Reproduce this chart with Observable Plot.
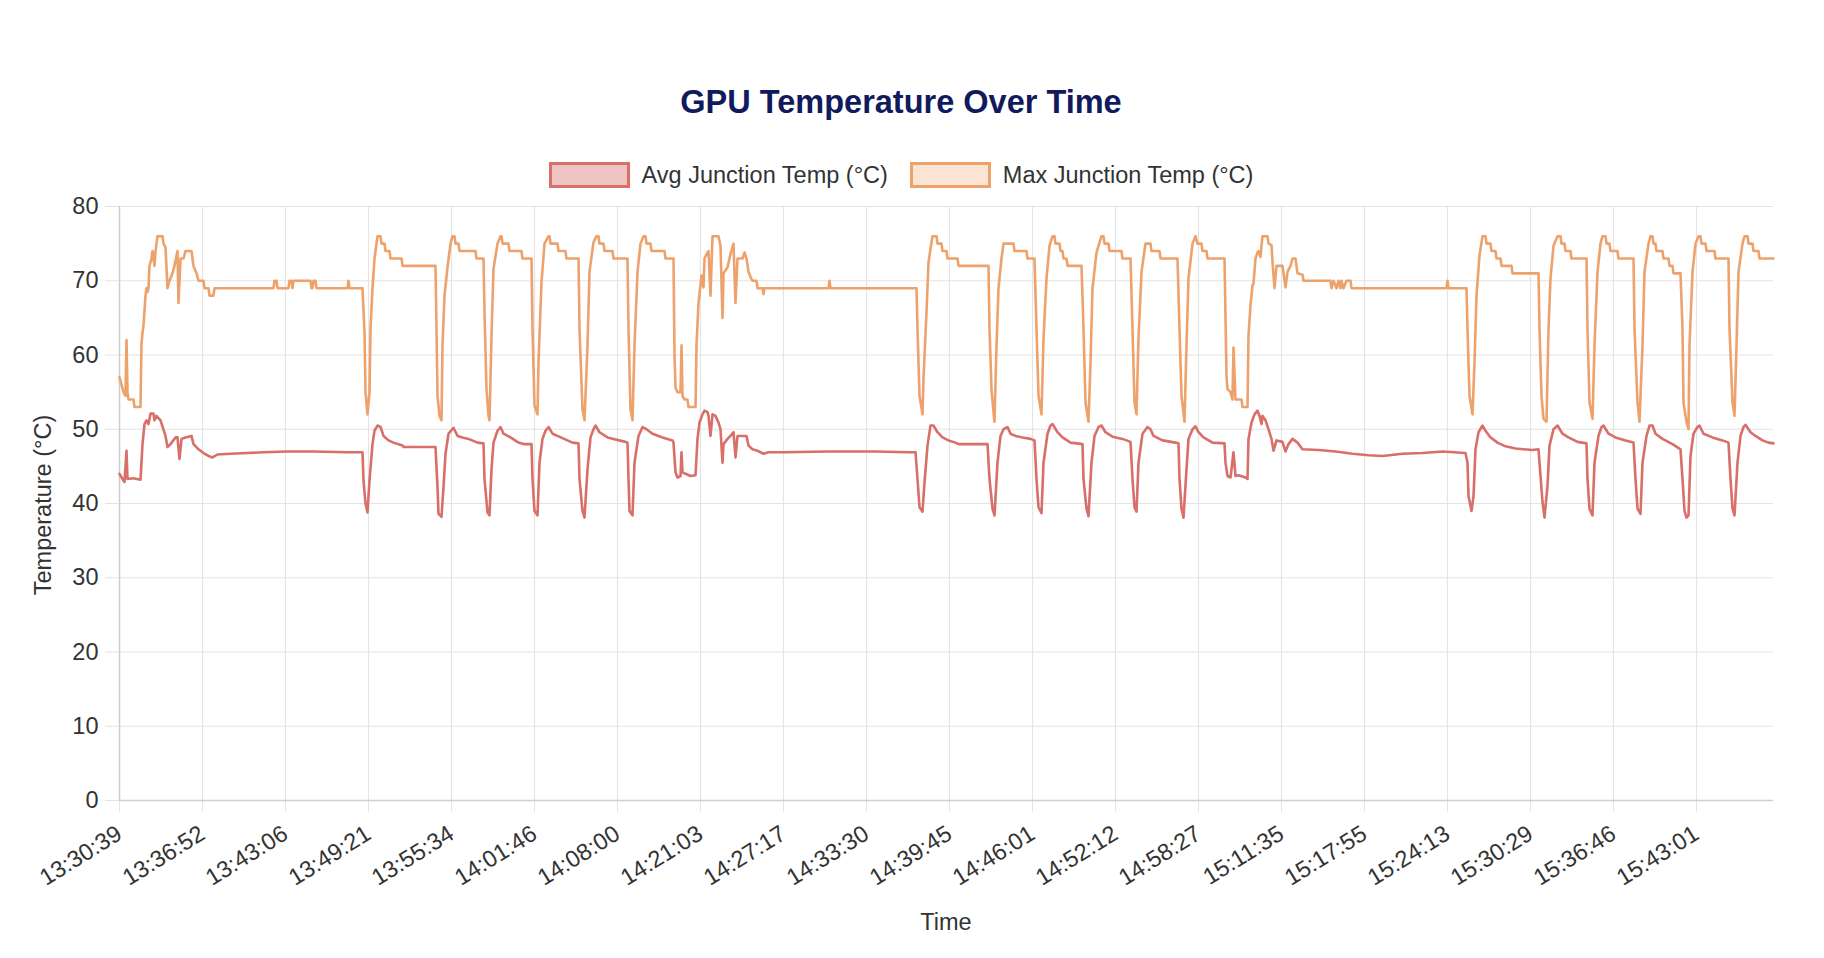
<!DOCTYPE html>
<html>
<head>
<meta charset="utf-8">
<script src="https://cdn.jsdelivr.net/npm/d3@7"></script>
<script src="https://cdn.jsdelivr.net/npm/@observablehq/plot@0.6"></script>
<style>
  body { margin: 0; background: #fff; }
  #wrap { position: relative; width: 1824px; height: 958px; font-family: "Liberation Sans", Arial, Helvetica, sans-serif; color: #333; }
  #title { position: absolute; left: 0; width: 1802px; top: 86px; line-height: 32px; text-align: center; font-weight: bold; font-size: 32.5px; color: #111a5c; }
  #legend { position: absolute; left: 0; width: 1802px; top: 162px; height: 26px; display: flex; justify-content: center; align-items: center; font-size: 23.5px; color: #333; }
  .item { display: flex; align-items: center; margin: 0 11px; }
  .box { width: 75px; height: 20px; border-width: 3px; border-style: solid; margin-right: 12px; }
  #chart { position: absolute; left: 0; top: 190px; }
  #xtitle { position: absolute; left: 119px; width: 1654px; top: 910px; line-height: 24px; text-align: center; font-size: 23.5px; color: #333; }
  #ytitle { position: absolute; left: 43px; top: 505px; transform: translate(-50%, -50%) rotate(-90deg); white-space: nowrap; font-size: 23.5px; color: #333; }
</style>
</head>
<body>
<div id="wrap">
  <div id="title">GPU Temperature Over Time</div>
  <div id="legend"></div>
  <div id="chart"></div>
  <div id="xtitle">Time</div>
  <div id="ytitle">Temperature (°C)</div>
</div>
<script>
// Time labels shown on the category axis (one every 83 samples)
const timeLabels = ["13:30:39","13:36:52","13:43:06","13:49:21","13:55:34","14:01:46","14:08:00","14:21:03","14:27:17","14:33:30","14:39:45","14:46:01","14:52:12","14:58:27","15:11:35","15:17:55","15:24:13","15:30:29","15:36:46","15:43:01"];
const samplesPerLabel = 83;
const lastSample = 1654;
const yTicks = [0, 10, 20, 30, 40, 50, 60, 70, 80];

const seriesNames = ["Avg Junction Temp (°C)", "Max Junction Temp (°C)"];
const seriesColors = ["#d86f69", "#eda26c"];
const seriesFills = ["#efc5c4", "#fbe4d4"];

// [sample index, °C]
const avgTemp = [[0,44],[3,43.3],[5,42.9],[7,47.1],[8,43.3],[14,43.4],[21,43.2],[23,48],[25,50.7],[27,51.2],[29,50.7],[31,52.1],[34,52.1],[35,51.2],[37,51.8],[41,51.2],[46,49.1],[48,47.6],[51,48],[56,48.9],[58,48.9],[60,46],[62,48.7],[66,48.9],[72,49.1],[74,48],[79,47.3],[84,46.8],[89,46.4],[93,46.2],[98,46.6],[111,46.7],[128,46.8],[144,46.9],[168,47],[194,47],[228,46.9],[243,46.9],[244,43.1],[246,40],[248,38.8],[250,43.1],[253,48],[255,49.8],[258,50.5],[261,50.3],[264,49.1],[269,48.5],[274,48.2],[283,47.8],[284,47.6],[316,47.6],[318,42.2],[319,38.6],[322,38.2],[324,42.2],[326,46.7],[329,49.4],[334,50.2],[338,49.1],[343,48.9],[349,48.7],[358,48.2],[364,48.1],[365,43.3],[368,38.8],[370,38.4],[372,44.6],[374,48.2],[378,49.8],[381,50.3],[384,49.4],[391,48.9],[399,48.2],[404,48],[412,48],[413,43.3],[415,39],[418,38.4],[420,45.5],[423,48.7],[426,49.8],[429,50.3],[433,49.4],[443,48.8],[453,48.2],[459,48.1],[460,43.3],[463,39],[465,38.1],[468,44.6],[471,48.9],[474,50],[476,50.5],[480,49.6],[488,48.9],[494,48.7],[506,48.3],[508,48.2],[509,43.3],[510,39],[513,38.4],[515,45.5],[519,49.1],[523,50.3],[527,50],[533,49.4],[543,48.9],[553,48.5],[554,48.2],[556,44.2],[558,43.5],[561,43.7],[562,46.9],[563,44.2],[566,44],[571,43.7],[576,43.8],[578,48.7],[580,50.9],[583,52],[585,52.5],[588,52.3],[589,51.8],[591,49.1],[593,52],[596,51.8],[599,50.9],[601,50],[603,45.5],[604,48],[608,48.7],[611,49.1],[614,49.6],[616,46.2],[618,49.1],[627,49.1],[629,47.8],[633,47.3],[638,47.1],[644,46.7],[649,46.9],[663,46.9],[709,47],[756,47],[789,46.9],[796,46.9],[798,43.3],[800,39.5],[803,38.9],[805,42.8],[808,47.8],[811,50.5],[814,50.5],[818,49.6],[823,48.9],[829,48.5],[836,48.2],[839,48],[868,48],[870,43.3],[873,39.3],[875,38.4],[878,45.5],[881,49.1],[884,50],[888,50.3],[891,49.4],[896,49.1],[903,48.9],[911,48.7],[915,48.5],[917,43.3],[919,39.5],[922,38.7],[924,45.5],[928,49.4],[931,50.5],[933,50.7],[938,49.6],[943,48.9],[951,48.2],[963,48],[964,43.3],[967,39.3],[969,38.3],[972,45.5],[975,49.1],[979,50.3],[982,50.5],[986,49.6],[993,49],[1003,48.7],[1011,48.3],[1013,43.3],[1015,39.5],[1017,38.9],[1019,45.5],[1023,49.4],[1028,50.3],[1031,50],[1034,49.1],[1043,48.5],[1056,48.2],[1059,48.1],[1060,43.3],[1062,39.3],[1064,38.1],[1067,44.6],[1069,48.7],[1073,50],[1076,50.4],[1079,49.6],[1084,48.9],[1093,48.2],[1105,48.1],[1106,45.5],[1108,43.7],[1111,43.5],[1114,46.9],[1116,43.7],[1119,43.8],[1126,43.5],[1128,43.3],[1129,48.7],[1132,50.9],[1135,52],[1138,52.5],[1140,51.8],[1142,50.7],[1143,51.8],[1146,51.2],[1149,50],[1152,48.7],[1154,47.1],[1157,48.5],[1163,48.3],[1166,47],[1169,48],[1173,48.7],[1178,48.2],[1183,47.3],[1199,47.2],[1216,47],[1233,46.7],[1249,46.5],[1263,46.4],[1283,46.7],[1303,46.8],[1323,47],[1346,46.8],[1348,45.5],[1349,41],[1352,39],[1354,41],[1356,47.3],[1359,49.6],[1363,50.5],[1366,49.8],[1371,48.9],[1378,48.2],[1386,47.7],[1396,47.4],[1413,47.2],[1419,47.3],[1420,45.5],[1423,40.2],[1425,38.1],[1428,42.4],[1430,47.8],[1434,50],[1438,50.5],[1443,49.4],[1449,48.9],[1458,48.3],[1467,48.1],[1468,43.3],[1470,39.3],[1473,38.4],[1475,45.5],[1479,49.1],[1482,50.3],[1484,50.5],[1489,49.4],[1496,48.9],[1506,48.5],[1514,48.2],[1516,43.3],[1518,39.3],[1521,38.6],[1523,45.5],[1527,49.1],[1530,50.5],[1533,50.5],[1536,49.4],[1543,48.7],[1553,48],[1561,47.3],[1563,43.3],[1565,39],[1567,38.1],[1569,38.4],[1571,46.4],[1574,49.4],[1578,50.3],[1580,50.5],[1584,49.4],[1593,48.9],[1603,48.5],[1609,48.2],[1611,43.3],[1613,39.3],[1615,38.4],[1618,45.5],[1621,49.1],[1624,50.3],[1626,50.6],[1631,49.6],[1636,49.1],[1643,48.5],[1649,48.2],[1654,48.1]];

// [sample index, °C]
const maxTemp = [[0,57],[2,56],[4,55],[6,54.5],[7,62],[8,55],[9,54],[14,54],[15,53],[21,53],[22,61.5],[23,63],[24,64],[26,68],[27,69],[28,68.5],[29,69],[30,72],[32,73],[33,74],[35,72],[36,74],[38,76],[43,76],[44,75],[46,74.5],[48,69],[50,70],[53,71],[55,72],[58,74],[59,67],[61,73],[64,73],[66,74],[72,74],[74,72],[77,71],[79,70],[84,70],[85,69],[89,69],[90,68],[94,68],[95,69],[154,69],[155,70],[157,70],[158,69],[169,69],[170,70],[172,70],[173,69],[174,70],[191,70],[192,69],[193,69],[194,70],[196,70],[197,69],[228,69],[229,70],[230,69],[243,69],[245,63],[246,55],[248,52],[250,55],[251,63.5],[253,69],[255,73],[258,76],[261,76],[262,75],[265,75],[266,74],[270,74],[271,73],[282,73],[283,72],[316,72],[317,63.5],[318,54.5],[320,51.8],[322,51.2],[323,61.3],[325,68],[328,71.8],[331,75],[333,76],[335,76],[336,75],[339,75],[340,74],[356,74],[357,73],[364,73],[365,65.8],[367,55.4],[369,51.8],[370,51.2],[372,62.6],[374,71.6],[378,75],[381,76],[382,76],[383,75],[389,75],[390,74],[402,74],[403,73],[412,73],[413,63.5],[415,53.2],[418,52],[419,59],[422,69.8],[425,75],[429,76],[430,76],[431,75],[438,75],[439,74],[446,74],[447,73],[459,73],[460,63.5],[463,52.7],[465,51.2],[468,61.3],[470,71.2],[474,75.2],[477,76],[479,76],[480,75],[484,75],[485,74],[493,74],[494,73],[508,73],[509,63.5],[511,52.7],[513,51.2],[515,61.3],[518,71.2],[521,75],[524,76],[526,76],[527,75],[531,75],[532,74],[545,74],[546,73],[554,73],[555,60],[556,55.6],[558,55],[561,55],[562,61.3],[563,54.5],[565,54],[568,54],[569,53],[576,53],[577,61.3],[579,67],[582,70.7],[584,69.1],[585,73],[588,73.8],[589,74],[591,68],[593,76],[599,76],[601,74.7],[603,65],[604,71],[608,71.8],[611,73.6],[614,75],[616,67],[618,73],[623,73],[625,73.8],[627,73],[629,71.2],[631,70.5],[633,70],[637,70],[638,69],[643,69],[644,68.2],[645,69],[709,69],[710,70],[711,69],[797,69],[798,63.5],[800,54.5],[803,52],[804,56.8],[807,65.8],[809,72.5],[813,76],[817,76],[818,75],[822,75],[823,74],[827,74],[828,73],[838,73],[839,72],[869,72],[870,63.5],[872,55.4],[874,52.3],[875,51],[877,61.3],[879,69],[882,73],[884,75],[894,75],[895,74],[907,74],[908,73],[915,73],[917,63.5],[919,54.5],[922,52],[924,62.2],[927,70.3],[930,74.7],[933,76],[935,76],[936,75],[940,75],[941,74],[943,74],[944,73],[947,73],[948,72],[962,72],[964,63.5],[966,53.6],[969,51],[971,59],[973,69],[977,73.8],[982,76],[984,76],[985,75],[989,75],[990,74],[1002,74],[1003,73],[1011,73],[1013,63.5],[1015,53.6],[1017,52],[1019,62.2],[1022,71.2],[1026,75],[1031,75],[1032,74],[1040,74],[1041,73],[1058,73],[1060,63.5],[1062,54.5],[1065,51],[1067,61.3],[1069,70.3],[1073,75],[1076,76],[1078,75],[1082,75],[1083,74],[1087,74],[1088,73],[1105,73],[1107,57.2],[1108,55.4],[1111,55],[1113,54],[1114,61],[1116,54],[1122,54],[1123,53],[1128,53],[1129,62.6],[1131,66.7],[1133,69.4],[1134,69.6],[1136,73],[1138,73.8],[1139,74],[1141,73.2],[1142,74.7],[1143,76],[1148,76],[1149,75],[1152,74.8],[1153,72.5],[1155,69],[1157,72],[1163,72],[1166,69.1],[1168,71.2],[1171,72],[1173,73],[1176,73],[1178,71],[1183,70.8],[1184,70],[1211,70],[1212,69],[1214,70],[1217,69],[1219,70],[1221,69],[1222,70],[1224,69],[1227,70],[1231,70],[1232,69],[1327,69],[1328,70],[1329,69],[1347,69],[1348,63.5],[1350,54.5],[1353,52],[1355,59],[1357,68],[1360,73.4],[1363,76],[1366,76],[1367,75],[1371,75],[1372,74],[1376,74],[1377,73],[1381,73],[1382,72],[1392,72],[1393,71],[1419,71],[1420,63.5],[1422,54.5],[1424,51.4],[1427,51],[1429,63.5],[1431,70.3],[1434,74.7],[1438,76],[1441,76],[1442,75],[1445,75],[1446,74],[1451,74],[1452,73],[1467,73],[1468,63.5],[1470,53.6],[1473,51.4],[1475,61.3],[1478,71.2],[1481,75],[1483,76],[1486,76],[1487,75],[1490,75],[1491,74],[1498,74],[1499,73],[1514,73],[1515,63.5],[1518,53.6],[1520,51],[1523,61.3],[1525,71.2],[1529,75],[1531,76],[1533,76],[1534,75],[1536,75],[1537,74],[1543,74],[1544,73],[1549,73],[1550,72],[1553,72],[1554,71],[1561,71],[1563,63.5],[1564,53.6],[1567,51],[1569,50],[1570,61.3],[1573,71.2],[1576,75],[1579,76],[1581,76],[1582,75],[1586,75],[1587,74],[1595,74],[1596,73],[1609,73],[1610,63.5],[1613,53.6],[1615,51.8],[1617,61.3],[1619,71.2],[1623,75],[1625,76],[1628,76],[1629,75],[1633,75],[1634,74],[1639,74],[1640,73],[1654,73]];

// Legend
const legend = document.getElementById("legend");
seriesNames.forEach((name, i) => {
  const item = document.createElement("div");
  item.className = "item";
  const box = document.createElement("div");
  box.className = "box";
  box.style.borderColor = seriesColors[i];
  box.style.background = seriesFills[i];
  const label = document.createElement("span");
  label.textContent = name;
  item.appendChild(box);
  item.appendChild(label);
  legend.appendChild(item);
});

const tickPositions = timeLabels.map((_, i) => i * samplesPerLabel);
const labelAt = new Map(tickPositions.map((p, i) => [p, timeLabels[i]]));

const chart = Plot.plot({
  width: 1802,
  height: 768,
  marginTop: 16,
  marginLeft: 119,
  marginRight: 29,
  marginBottom: 158,
  style: { fontFamily: '"Liberation Sans", Arial, Helvetica, sans-serif', fontSize: "23.5px", background: "#fff", overflow: "visible" },
  x: { domain: [0, lastSample] },
  y: { domain: [0, 80] },
  marks: [
    Plot.gridY(yTicks, { stroke: "#e4e4e4", strokeOpacity: 1, strokeWidth: 1.2 }),
    Plot.gridX(tickPositions, { stroke: "#e4e4e4", strokeOpacity: 1, strokeWidth: 1.2 }),
    Plot.axisY(yTicks, { tickSize: 14, tickPadding: 7, stroke: "#e4e4e4", strokeOpacity: 1, fill: "#333", label: null }),
    Plot.axisX(tickPositions, { tickSize: 12, tickPadding: 19, tickRotate: -32, stroke: "#e4e4e4", strokeOpacity: 1, fill: "#333", label: null, tickFormat: d => labelAt.get(d) }),
    Plot.ruleX([0], { stroke: "#cfcfcf", strokeWidth: 1.5 }),
    Plot.ruleY([0], { stroke: "#cfcfcf", strokeWidth: 1.5 }),
    Plot.line(avgTemp, { x: d => d[0], y: d => d[1], stroke: seriesColors[0], strokeWidth: 2.6, strokeLinejoin: "round" }),
    Plot.line(maxTemp, { x: d => d[0], y: d => d[1], stroke: seriesColors[1], strokeWidth: 2.6, strokeLinejoin: "round" })
  ]
});
document.getElementById("chart").appendChild(chart);
</script>
</body>
</html>
